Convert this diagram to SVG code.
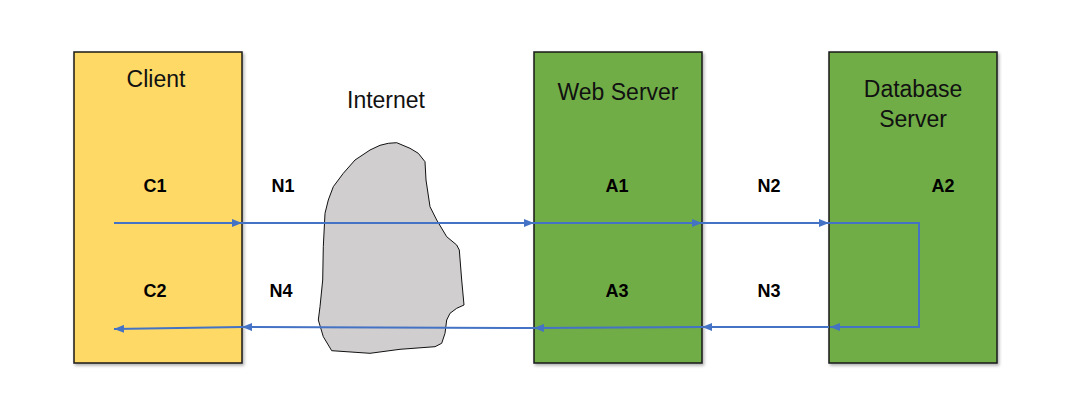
<svg xmlns="http://www.w3.org/2000/svg" width="1092" height="418" viewBox="0 0 1092 418">
<style>
.box{stroke:#1a1a1a;stroke-width:1.5;filter:url(#sh)}
.title{font-family:"Liberation Sans",Arial,sans-serif;font-size:23px;fill:#111;text-anchor:middle}
.lbl{font-family:"Liberation Sans",Arial,sans-serif;font-size:18px;font-weight:bold;fill:#000;text-anchor:middle}
.c{fill:none;stroke:#4472C4;stroke-width:2}
</style>
<defs>
<filter id="sh" x="-10%" y="-10%" width="125%" height="125%">
<feDropShadow dx="1.5" dy="2" stdDeviation="1.5" flood-color="#000" flood-opacity="0.3"/>
</filter>
<marker id="ah" viewBox="0 0 10 8" refX="10" refY="4" markerWidth="10" markerHeight="8" markerUnits="userSpaceOnUse" orient="auto">
<path d="M0,0 L10,4 L0,8 Z" fill="#4472C4"/>
</marker>
</defs>
<g id="client">
<rect class="box" x="74" y="52" width="168" height="311" fill="#FED966"/>
<text class="title" x="156" y="87">Client</text>
<text class="lbl" x="155" y="192">C1</text>
<text class="lbl" x="155" y="297">C2</text>
</g>
<g id="internet">
<path d="M396.7,142.7 L410,148.3 L418.3,153.3 L425,161.7 L426,180 L430,206.7 L436.7,220 L446.7,236.7 L456.7,245 L459.3,250 L461.7,280 L464,305 L456.7,308.3 L450,313.3 L446.7,320 L445,333.3 L441.7,343.3 L435,346.7 L400,349.3 L370,353.3 L331.7,350.7 L323.3,336.7 L318.3,320 L320,306.7 L322.7,280 L323.3,246.7 L325,213.3 L328.3,200 L333.3,186.7 L343.3,173.3 L355,160 L370,150 L380,145.3 L388.3,143.3 Z" fill="#D0CECE" stroke="#111" stroke-width="1"/>
<text class="title" x="386" y="108">Internet</text>
</g>
<g id="webserver">
<rect class="box" x="534" y="52" width="168" height="311" fill="#70AD47"/>
<text class="title" x="618" y="100">Web Server</text>
<text class="lbl" x="617" y="192">A1</text>
<text class="lbl" x="617" y="297">A3</text>
</g>
<g id="dbserver">
<rect class="box" x="829" y="52" width="168" height="311" fill="#70AD47"/>
<text class="title" x="913" y="97">Database</text>
<text class="title" x="913" y="127">Server</text>
<text class="lbl" x="943" y="192">A2</text>
</g>
<g id="net-labels">
<text class="lbl" x="283" y="192">N1</text>
<text class="lbl" x="281" y="297">N4</text>
<text class="lbl" x="769" y="192">N2</text>
<text class="lbl" x="769" y="297">N3</text>
</g>
<g id="connectors">
<line class="c" x1="114" y1="223" x2="242" y2="223" marker-end="url(#ah)"/>
<line class="c" x1="242" y1="223" x2="534" y2="223" marker-end="url(#ah)"/>
<line class="c" x1="534" y1="223" x2="702" y2="223" marker-end="url(#ah)"/>
<line class="c" x1="702" y1="223" x2="829" y2="223" marker-end="url(#ah)"/>
<polyline class="c" points="829,223 919,223 919,327 830,327" marker-end="url(#ah)"/>
<line class="c" x1="829" y1="327" x2="702" y2="327" marker-end="url(#ah)"/>
<line class="c" x1="702" y1="327" x2="534" y2="328" marker-end="url(#ah)"/>
<line class="c" x1="534" y1="328" x2="242" y2="327" marker-end="url(#ah)"/>
<line class="c" x1="242" y1="327" x2="114" y2="329" marker-end="url(#ah)"/>
</g>
</svg>
